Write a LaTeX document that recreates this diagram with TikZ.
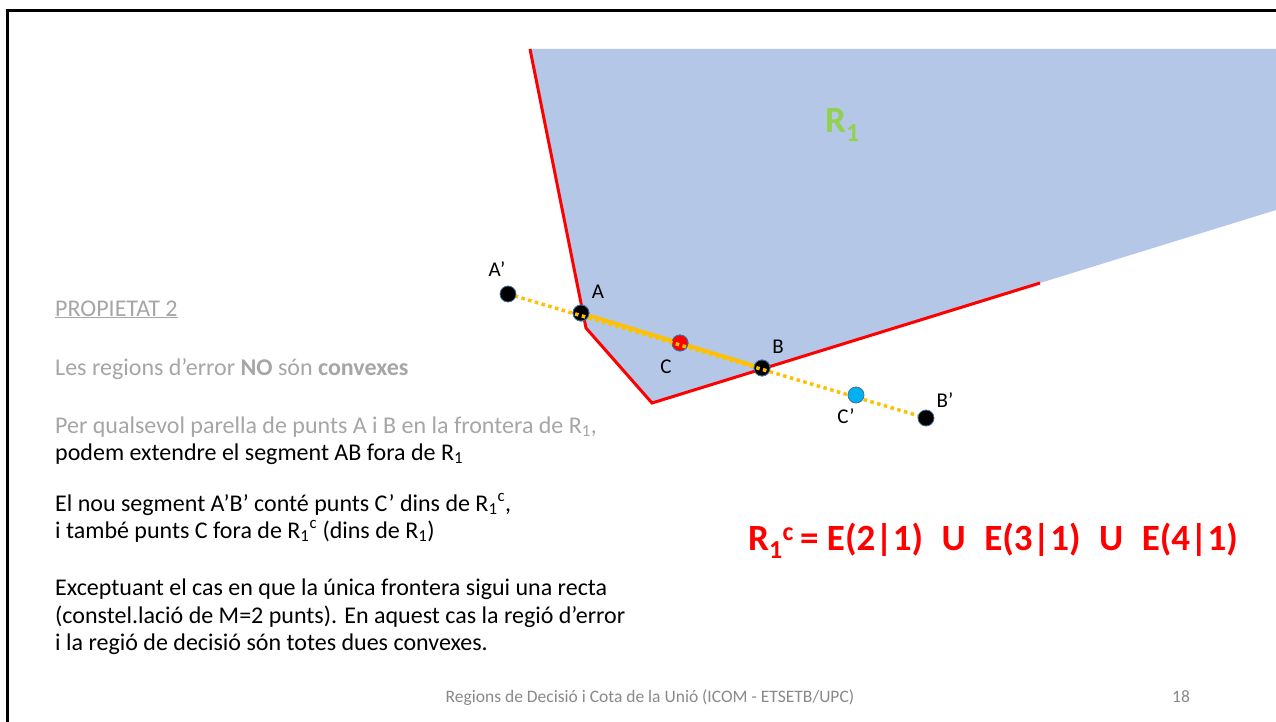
\documentclass[tikz,border=0pt]{standalone}
\usepackage{fontspec}
\setmainfont{Carlito}
\definecolor{regblue}{HTML}{B4C7E7}
\definecolor{pred}{HTML}{FF0000}
\definecolor{pyel}{HTML}{FFC000}
\definecolor{pgreen}{HTML}{92D050}
\definecolor{pcyan}{HTML}{00B0F0}
\definecolor{ptxt}{HTML}{A6A6A6}
\definecolor{pfoot}{HTML}{898989}
\definecolor{dotedge}{HTML}{41719C}
\tikzset{
  pdot/.style={circle, minimum size=16pt, inner sep=0pt, draw=dotedge, line width=0.8pt, fill=black},
  ptlabel/.style={font=\fontsize{21}{25}\selectfont, text=black, inner sep=0pt},
  body/.style={font=\fontsize{24}{28}\selectfont, anchor=base west, inner sep=0pt},
  segsolid/.style={pyel, line width=3.5pt},
  segdot/.style={pyel, line width=3.5pt, dash pattern=on 3.5pt off 3.5pt},
}
\begin{document}
\begin{tikzpicture}[x=1pt,y=-1pt]
\useasboundingbox (0,0) rectangle (1276,722);
\fill[white] (0,0) rectangle (1276,722);
% slide border
\draw[black, line width=3pt] (7,722) -- (7,11) -- (1276,11);
% region R1
\fill[regblue] (530,49) -- (586,328) -- (652,403) -- (1276,210) -- (1276,49) -- cycle;
\draw[pred, line width=3pt, line join=miter] (530,49) -- (586,328) -- (652,403) -- (1040,283);
\node[text=pgreen, font=\fontsize{37}{40}\selectfont\bfseries, anchor=base west, inner sep=0pt] (R1) at (825,133) {R\textsubscript{1}};
% points
\node[pdot] (A) at (581,313) {};
\node[pdot] (B) at (762,368) {};
\node[pdot, fill=pred] (C) at (680,343) {};
\draw[segsolid] (A) -- (B);
\node[pdot] at (A) {};
\node[pdot] at (B) {};
\node[pdot, fill=pred] at (C) {};
\coordinate (Ap) at (508,294);
\coordinate (Bp) at (926,418);
\draw[segdot] (Ap) -- (Bp);
\node[pdot] (Apn) at (Ap) {};
\node[pdot] (Bpn) at (Bp) {};
\node[pdot, fill=pcyan] (Cp) at (856,395) {};
% point labels
\node[ptlabel] (lAp) at (497,269) {A’};
\node[ptlabel] (lA) at (598,292) {A};
\node[ptlabel] (lC) at (666,367) {C};
\node[ptlabel] (lB) at (778,347) {B};
\node[ptlabel] (lCp) at (846,416) {C’};
\node[ptlabel] (lBp) at (945,400) {B’};
% texts
\node[body, text=ptxt] (t1) at (55,316) {\underline{PROPIETAT 2}};
\node[body, text=ptxt] (t2) at (55,375) {Les regions d’error \textbf{NO} són \textbf{convexes}};
\node[body, text=ptxt] (t3) at (55,433) {Per qualsevol parella de punts A i B en la frontera de R\textsubscript{1},};
\node[body] (t4) at (55,460) {podem extendre el segment AB fora de R\textsubscript{1}};
\node[body] (t5) at (55,511) {El nou segment A’B’ conté punts C’ dins de R\textsubscript{1}\textsuperscript{c},};
\node[body] (t6) at (55,538) {i també punts C fora de R\textsubscript{1}\textsuperscript{c} (dins de R\textsubscript{1})};
\node[body] (t7) at (55,595) {Exceptuant el cas en que la única frontera sigui una recta};
\node[body] (t8) at (55,623) {(constel.lació de M=2 punts). En aquest cas la regió d’error};
\node[body] (t9) at (55,650) {i la regió de decisió són totes dues convexes.};
% formula
\node[text=pred, font=\fontsize{37}{44}\selectfont\bfseries, anchor=base west, inner sep=0pt] (F) at (748,550) {R\textsubscript{1}\textsuperscript{c}\,= E(2|1)\hspace{0.5em}U\hspace{0.5em}E(3|1)\hspace{0.5em}U\hspace{0.5em}E(4|1)};
% footer
\node[text=pfoot, font=\fontsize{17.5}{20}\selectfont, anchor=base, inner sep=0pt] (foot) at (650,702) {Regions de Decisió i Cota de la Unió (ICOM - ETSETB/UPC)};
\node[text=pfoot, font=\fontsize{17.5}{20}\selectfont, anchor=base west, inner sep=0pt] (num) at (1172,702) {18};
\end{tikzpicture}
\end{document}
